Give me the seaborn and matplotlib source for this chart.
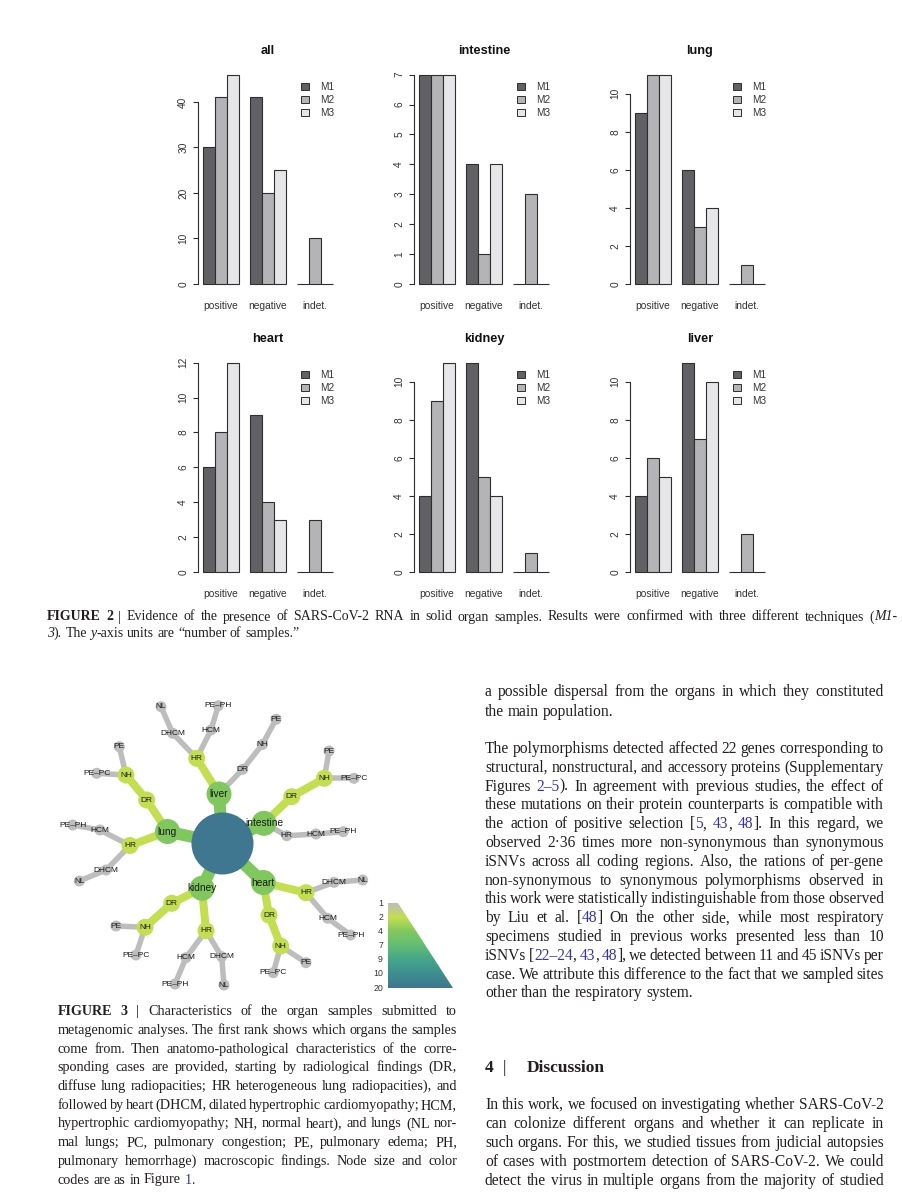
import re
import numpy as np
import pandas as pd
import matplotlib
matplotlib.use('Agg')
import matplotlib.pyplot as plt
import seaborn as sns
from matplotlib.colors import LinearSegmentedColormap
from matplotlib.patches import Patch, Polygon

sns.set_theme(style='white')
plt.rcParams['font.family'] = ['Liberation Sans', 'DejaVu Sans']

W, H = 903, 1200
SERIF = ['Liberation Serif', 'DejaVu Serif']
INK = '#231f20'
LINK = '#3434a8'
EDGE = '#2e2e2e'
TXT = '#333333'

# ---------------------------------------------------------------------------
# Figure 2 data: counts per result group (rows) and method (columns)
groups = ['positive', 'negative', 'indet.']
methods = ['M1', 'M2', 'M3']
bar_colors = ['#616165', '#b4b4b7', '#e6e6e8']

counts_all = [[30, 41, 46], [41, 20, 25], [0, 10, 0]]
counts_intestine = [[7, 7, 7], [4, 1, 4], [0, 3, 0]]
counts_lung = [[9, 11, 11], [6, 3, 4], [0, 1, 0]]
counts_heart = [[6, 8, 12], [9, 4, 3], [0, 3, 0]]
counts_kidney = [[4, 9, 11], [11, 5, 4], [0, 1, 0]]
counts_liver = [[4, 6, 5], [11, 7, 10], [0, 2, 0]]

ticks_all = [0, 10, 20, 30, 40]
ticks_intestine = [0, 1, 2, 3, 4, 5, 6, 7]
ticks_lung = [0, 2, 4, 6, 8, 10]
ticks_heart = [0, 2, 4, 6, 8, 10, 12]
ticks_kidney = [0, 2, 4, 6, 8, 10]
ticks_liver = [0, 2, 4, 6, 8, 10]

panels = [('all', counts_all, ticks_all),
          ('intestine', counts_intestine, ticks_intestine),
          ('lung', counts_lung, ticks_lung),
          ('heart', counts_heart, ticks_heart),
          ('kidney', counts_kidney, ticks_kidney),
          ('liver', counts_liver, ticks_liver)]

# ---------------------------------------------------------------------------
# Figure 3 data: tree of organ samples (positions, px)
node_names = ['', 'liver', 'HR', 'DHCM', 'NL', 'HCM', 'PE–PH', 'DR', 'NH', 'PE',
              'intestine', 'DR', 'NH', 'PE', 'PE–PC', 'HR', 'HCM', 'PE–PH',
              'lung', 'DR', 'NH', 'PE', 'PE–PC', 'HR', 'HCM', 'PE–PH', 'DHCM', 'NL',
              'kidney', 'DR', 'NH', 'PE', 'PE–PC', 'HR', 'HCM', 'PE–PH', 'DHCM', 'NL',
              'heart', 'HR', 'DHCM', 'NL', 'HCM', 'PE–PH', 'DR', 'NH', 'PE', 'PE–PC']
node_parent = [-1, 0, 1, 2, 3, 2, 5, 1, 7, 8,
               0, 10, 11, 12, 12, 10, 15, 16,
               0, 18, 19, 20, 20, 18, 23, 24, 23, 26,
               0, 28, 29, 30, 30, 28, 33, 34, 33, 36,
               0, 38, 39, 40, 39, 42, 38, 44, 45, 45]
node_count = [20, 4, 2, 1, 1, 1, 1, 1, 1, 1,
              4, 2, 2, 1, 1, 1, 1, 1,
              4, 2, 2, 1, 1, 2, 1, 1, 1, 1,
              4, 2, 2, 1, 1, 2, 1, 1, 1, 1,
              4, 2, 1, 1, 1, 1, 2, 2, 1, 1]
node_x = [222.5, 219, 196.7, 172.7, 161, 211, 218.3, 242.7, 262.3, 276,
          264, 291.7, 324.3, 329, 354, 286.7, 316, 343.3,
          167.5, 146.7, 126, 119.3, 96.7, 130, 100, 72.7, 106, 79.3,
          202, 171.7, 145, 116, 136, 206, 186, 175, 221.7, 224,
          263.3, 306, 334, 362.7, 327.7, 350.7, 269, 280.7, 306, 273.3]
node_y = [843.5, 794, 758.3, 733.3, 706.7, 730, 705.7, 769.3, 744.5, 719.3,
          823.3, 796.7, 778.3, 751, 778.3, 835.7, 834, 831.7,
          831.5, 800, 775, 746.7, 773.3, 845.5, 830, 825, 870, 881,
          888.3, 903.3, 927.3, 926, 955, 930.7, 957.7, 984, 956.7, 985,
          882.5, 892.7, 882.3, 880, 918.3, 935, 915, 946, 962.7, 972.7]

legend_vals = [1, 2, 4, 7, 9, 10, 20]
legend_cols = ['#bdbdbd', '#c4de50', '#80c85e', '#63bd75', '#45a58a', '#3d8f8e', '#3f7690']

# ---------------------------------------------------------------------------
# page text
cap2 = ['*FIGURE* *2* | Evidence of the presence of SARS-CoV-2 RNA in solid organ samples. '
        'Results were confirmed with three different techniques (_M1-_',
        '_3_). The _y_-axis units are “number of samples.”']

cap3 = ['*FIGURE* *3* | Characteristics of the organ samples submitted to',
        'metagenomic analyses. The first rank shows which organs the samples',
        'come from. Then anatomo-pathological characteristics of the corre-',
        'sponding cases are provided, starting by radiological findings (DR,',
        'diffuse lung radiopacities; HR heterogeneous lung radiopacities), and',
        'followed by heart (DHCM, dilated hypertrophic cardiomyopathy; HCM,',
        'hypertrophic cardiomyopathy; NH, normal heart), and lungs (NL nor-',
        'mal lungs; PC, pulmonary congestion; PE, pulmonary edema; PH,',
        'pulmonary hemorrhage) macroscopic findings. Node size and color',
        'codes are as in Figure {1}.']

par1 = ['a possible dispersal from the organs in which they constituted',
        'the main population.']

par2 = ['The polymorphisms detected affected 22 genes corresponding to',
        'structural, nonstructural, and accessory proteins (Supplementary',
        'Figures {2–5}). In agreement with previous studies, the effect of',
        'these mutations on their protein counterparts is compatible with',
        'the action of positive selection [{5}, {43}, {48}]. In this regard, we',
        'observed 2·36 times more non-synonymous than synonymous',
        'iSNVs across all coding regions. Also, the rations of per-gene',
        'non-synonymous to synonymous polymorphisms observed in',
        'this work were statistically indistinguishable from those observed',
        'by Liu et al. [{48}] On the other side, while most respiratory',
        'specimens studied in previous works presented less than 10',
        'iSNVs [{22–24}, {43}, {48}], we detected between 11 and 45 iSNVs per',
        'case. We attribute this difference to the fact that we sampled sites',
        'other than the respiratory system.']

par3 = ['In this work, we focused on investigating whether SARS-CoV-2',
        'can colonize different organs and whether it can replicate in',
        'such organs. For this, we studied tissues from judicial autopsies',
        'of cases with postmortem detection of SARS-CoV-2. We could',
        'detect the virus in multiple organs from the majority of studied']

fig = plt.figure(figsize=(W / 100, H / 100), dpi=100)
fig.patch.set_facecolor('white')
renderer = fig.canvas.get_renderer()

# ---------------------------------------------------------------------------
# Figure 2: six grouped bar panels
PANEL_X = [198, 414, 630]
PANEL_TOP = [66.3, 354.3]
PW, PH = 140, 226

for i, (name, counts, ticks) in enumerate(panels):
    row, col = divmod(i, 3)
    ax = fig.add_axes([PANEL_X[col] / W, 1 - (PANEL_TOP[row] + PH) / H, PW / W, PH / H])
    df = pd.DataFrame([(g, m, counts[gi][mi]) for gi, g in enumerate(groups)
                       for mi, m in enumerate(methods)], columns=['result', 'method', 'n'])
    sns.barplot(data=df, x='result', y='n', hue='method', order=groups, hue_order=methods,
                palette=bar_colors, width=0.75, saturation=1, edgecolor=EDGE, linewidth=0.8,
                errorbar=None, legend=False, ax=ax)
    top = df.n.max()
    ax.set_xlim(-0.485, 2.485)
    ax.set_ylim(-0.04 * top, 1.04 * top)
    ax.patch.set_visible(False)
    for s in ['top', 'right', 'bottom']:
        ax.spines[s].set_visible(False)
    ax.spines['left'].set_bounds(ticks[0], ticks[-1])
    ax.spines['left'].set_color(EDGE)
    ax.spines['left'].set_linewidth(0.8)
    ax.set_yticks(ticks)
    ax.tick_params(axis='y', left=True, length=3.6, width=0.8, color=EDGE, labelsize=7.3,
                   labelcolor=TXT, pad=3.5, labelrotation=90)
    for lab in ax.get_yticklabels():
        lab.set_va('center')
    ax.set_xticks([0, 1, 2])
    ax.set_xticklabels(groups)
    ax.tick_params(axis='x', length=0, labelsize=7.4, labelcolor=TXT, pad=6)
    ax.set_xlabel('')
    ax.set_ylabel('')
    ax.set_title(name, fontsize=9.2, fontweight='bold', color='#111111', pad=8.5)
    handles = [Patch(facecolor=c, edgecolor=EDGE, linewidth=0.7) for c in bar_colors]
    leg = ax.legend(handles, methods, loc='upper right', bbox_to_anchor=(0.97, 0.93),
                    frameon=False, fontsize=7.2, handlelength=0.75, handleheight=0.75,
                    handletextpad=1.1, labelspacing=0.28, borderpad=0, borderaxespad=0)
    for t in leg.get_texts():
        t.set_color(TXT)

# ---------------------------------------------------------------------------
# Figure 3: sample tree
net = fig.add_axes([40 / W, 1 - 1000 / H, 430 / W, 310 / H])
net.axis('off')

cmap = LinearSegmentedColormap.from_list('cnt', list(zip(np.linspace(0, 1, 7), legend_cols)))
pos = lambda c: np.interp(c, legend_vals, np.linspace(0, 1, 7))
radius = lambda c: np.interp(c, [1, 2, 4, 20], [5.5, 8.5, 12.5, 31])
edge_px = lambda c: np.interp(c, [1, 2, 4], [5.5, 8, 12])

for k, p in enumerate(node_parent):
    if p < 0:
        continue
    net.plot([node_x[p], node_x[k]], [node_y[p], node_y[k]], color=cmap(pos(node_count[k])),
             lw=edge_px(node_count[k]) * 0.72, solid_capstyle='butt', zorder=1)

cnt = np.array(node_count)
net.scatter(node_x, node_y, s=(1.44 * radius(cnt)) ** 2, c=[cmap(pos(c)) for c in cnt],
            linewidths=0, zorder=2)

for k, name in enumerate(node_names):
    if not name:
        continue
    size = 7.3 if node_count[k] == 4 else 6
    net.text(node_x[k], node_y[k], name, fontsize=size, ha='center', va='center',
             color='#1a1a1a', zorder=3)

# colour / size legend
grad = np.linspace(0, 1, 256).reshape(-1, 1)
im = net.imshow(grad, cmap=cmap, extent=(388, 453, 988, 903), aspect='auto', zorder=1)
wedge = Polygon([(388, 903), (398, 903), (453, 988), (388, 988)], closed=True,
                transform=net.transData, facecolor='none', edgecolor='none')
net.add_patch(wedge)
im.set_clip_path(wedge)
for k, v in enumerate(legend_vals):
    net.text(383, 903 + k * 85 / 6, str(v), fontsize=6.3, ha='right', va='center', color=TXT)
net.set_xlim(40, 470)
net.set_ylim(1000, 690)

# ---------------------------------------------------------------------------
# justified page text
TOKEN = re.compile(r'\*([^*]+)\*|_([^_]+)_|\{([^}]+)\}|([^*_{}]+)')


def draw_line(line, x0, x1, y, size, justify):
    items = []
    for word in line.split():
        parts = []
        for m in TOKEN.finditer(word):
            bold, ital, link, plain = m.groups()
            s = bold or ital or link or plain
            t = fig.text(0, 1 - y / H, s, fontsize=size, family=SERIF,
                         color=LINK if link else INK,
                         weight='bold' if bold else 'normal',
                         style='italic' if ital else 'normal', va='baseline', ha='left')
            parts.append((t, t.get_window_extent(renderer).width))
        items.append(parts)
    widths = [sum(w for _, w in p) for p in items]
    gap = size * 100 / 72 * 0.25
    if justify and len(items) > 1:
        gap = (x1 - x0 - sum(widths)) / (len(items) - 1)
    x = x0
    for p in items:
        for t, w in p:
            t.set_x(x / W)
            x += w
        x += gap


def draw_par(lines, x0, x1, y0, step, size, ragged_last=True):
    for k, line in enumerate(lines):
        last = k == len(lines) - 1
        draw_line(line, x0, x1, y0 + k * step, size, not (last and ragged_last))


draw_par(cap2, 47, 897, 620.5, 16.5, 10)
draw_par(cap3, 57.5, 457, 1015.2, 18.7, 10.2)
draw_par(par1, 485, 884, 695.5, 20, 11.2)
draw_par(par2, 485, 884, 753, 18.8, 11.2)
draw_par(par3, 485, 884, 1109, 19, 11.2, ragged_last=False)

fig.text(485 / W, 1 - 1072 / H, '4', fontsize=12.5, family=SERIF, weight='bold', color=INK)
fig.text(503 / W, 1 - 1072 / H, '|', fontsize=12.5, family=SERIF, color=INK)
fig.text(527 / W, 1 - 1072 / H, 'Discussion', fontsize=12.5, family=SERIF, weight='bold',
         color=INK)

fig.savefig('out.png', dpi=100, facecolor='white')
